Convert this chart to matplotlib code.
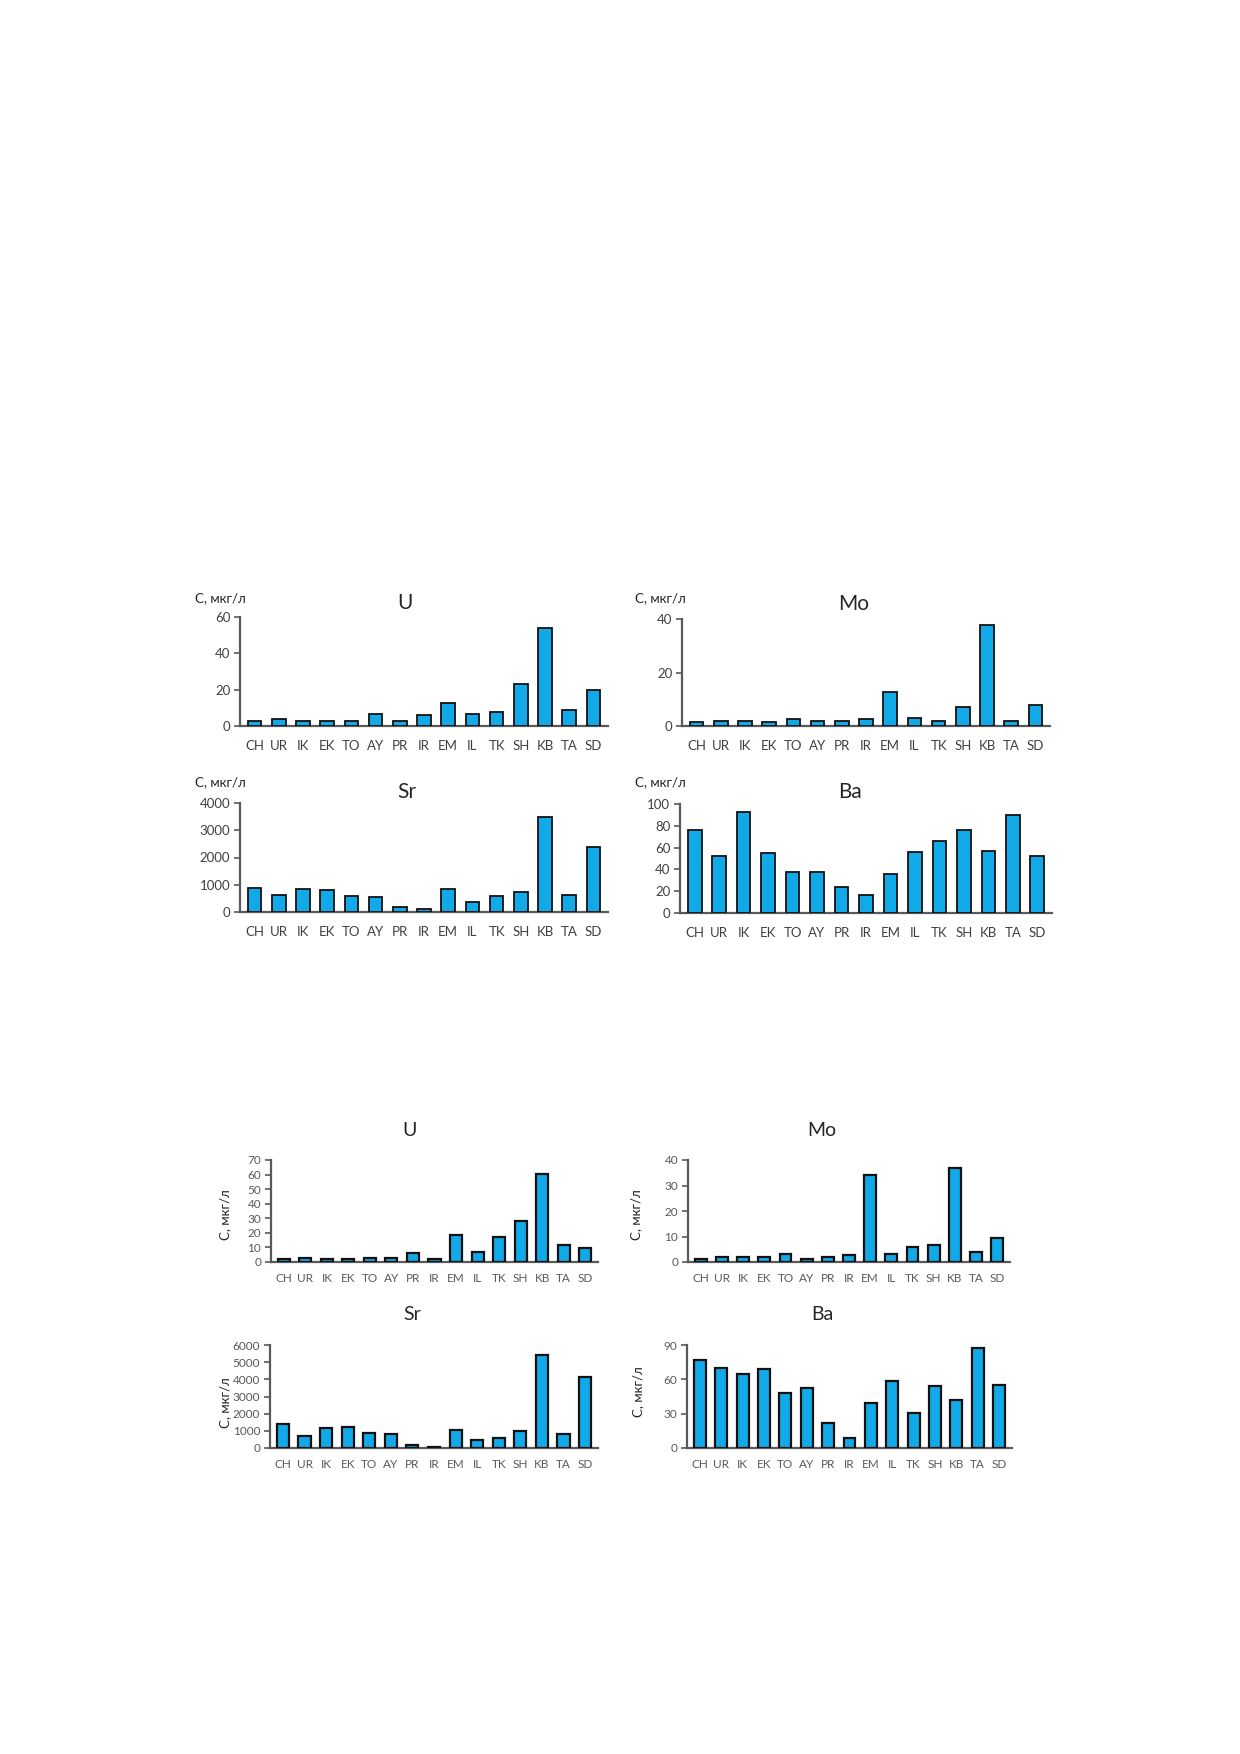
import numpy as np
import matplotlib
matplotlib.use("Agg")
import matplotlib.pyplot as plt

plt.rcParams['font.family'] = ['Lato', 'DejaVu Sans']

categories = ["CH", "UR", "IK", "EK", "TO", "AY", "PR", "IR", "EM", "IL", "TK", "SH", "KB", "TA", "SD"]

# upper block
u_top = [3.0, 3.9, 3.0, 2.6, 3.0, 6.8, 3.0, 6.3, 12.4, 6.8, 7.7, 22.9, 53.9, 9.0, 19.7]
mo_top = [1.4, 1.7, 1.7, 1.4, 2.6, 2.0, 1.7, 2.6, 12.7, 3.0, 2.0, 7.0, 37.6, 1.7, 7.7]
sr_top = [874, 628, 850, 812, 578, 541, 185, 123, 837, 382, 578, 750, 3470, 628, 2400]
ba_top = [75.9, 52.4, 92.7, 55.2, 37.5, 37.5, 24.0, 16.5, 35.4, 55.8, 66.2, 75.9, 56.7, 90.0, 52.4]

# lower block
u_bot = [1.8, 2.7, 1.8, 1.8, 2.7, 2.7, 5.9, 2.0, 18.2, 6.6, 17.3, 28.0, 60.6, 11.6, 9.3]
mo_bot = [1.3, 2.0, 2.0, 2.0, 3.1, 1.3, 2.0, 2.7, 34.3, 3.3, 5.7, 6.8, 36.7, 3.8, 9.3]
sr_bot = [1420, 720, 1190, 1250, 860, 820, 195, 78, 1070, 490, 565, 990, 5415, 840, 4150]
ba_bot = [77.0, 70.0, 65.0, 68.7, 48.2, 52.3, 21.9, 8.8, 39.5, 58.5, 30.4, 53.8, 41.8, 87.7, 55.3]

top_ticks = {"U": [0, 20, 40, 60], "Mo": [0, 20, 40], "Sr": [0, 1000, 2000, 3000, 4000],
             "Ba": [0, 20, 40, 60, 80, 100]}
bot_ticks = {"U": [0, 10, 20, 30, 40, 50, 60, 70], "Mo": [0, 10, 20, 30, 40],
             "Sr": [0, 1000, 2000, 3000, 4000, 5000, 6000], "Ba": [0, 30, 60, 90]}

W, H = 1240, 1754
fig = plt.figure(figsize=(W / 100, H / 100), dpi=100)

BAR = '#12A9E9'
SPINE = '#595959'
ylabel = "С, мкг/л"


def px_axes(left, right, top, bottom):
    return fig.add_axes([left / W, 1 - bottom / H, (right - left) / W, (bottom - top) / H])


def style(ax, vals, ticks, fs, pad_x, tcol, lw_edge):
    x = np.arange(len(categories))
    ax.bar(x, vals, width=0.56, color=BAR, edgecolor='#111111', linewidth=lw_edge, zorder=3)
    ax.set_xlim(-0.6, len(categories) - 0.4)
    ax.set_ylim(0, ticks[-1])
    ax.set_yticks(ticks)
    ax.set_xticks(x)
    ax.set_xticklabels(categories)
    for s in ['top', 'right']:
        ax.spines[s].set_visible(False)
    for s in ['left', 'bottom']:
        ax.spines[s].set_color(SPINE)
        ax.spines[s].set_linewidth(1.6)
    ax.tick_params(axis='x', length=0, pad=pad_x, labelsize=fs, labelcolor=tcol)
    ax.tick_params(axis='y', length=4, width=1.2, color=SPINE, pad=3, labelsize=fs, labelcolor=tcol)
    ax.set_facecolor('none')


# ---- upper block ----
axes_top = [
    ("U", u_top, (240, 608, 617, 726), (405, 603), (195, 598)),
    ("Mo", mo_top, (682, 1050, 619, 726), (854, 604), (635, 598)),
    ("Sr", sr_top, (240, 608, 803, 912), (407, 792), (195, 782)),
    ("Ba", ba_top, (680, 1052, 804, 913), (850, 792), (635, 782)),
]
for name, vals, box, tpos, lpos in axes_top:
    ax = px_axes(*box)
    style(ax, vals, top_ticks[name], 9.5, 10, '#404040', 1.3)
    fig.text(tpos[0] / W, 1 - tpos[1] / H, name, ha='center', va='center',
             fontsize=15, color='#262626')
    fig.text(lpos[0] / W, 1 - lpos[1] / H, ylabel, ha='left', va='center',
             fontsize=9.5, color='#262626')

# ---- lower block ----
axes_bot = [
    ("U", u_bot, (271, 598, 1160, 1262), (410, 1130), (225, 1215)),
    ("Mo", mo_bot, (688, 1010, 1160, 1262), (822, 1130), (636, 1215)),
    ("Sr", sr_bot, (270, 598, 1345, 1448), (412, 1315), (225, 1403)),
    ("Ba", ba_bot, (687, 1012, 1345, 1448), (822, 1315), (638, 1392)),
]
for name, vals, box, tpos, lpos in axes_bot:
    ax = px_axes(*box)
    style(ax, vals, bot_ticks[name], 8.5, 8, '#595959', 1.6)
    fig.text(tpos[0] / W, 1 - tpos[1] / H, name, ha='center', va='center',
             fontsize=14, color='#262626')
    fig.text(lpos[0] / W, 1 - lpos[1] / H, ylabel, ha='center', va='center',
             rotation=90, fontsize=9.5, color='#262626')

fig.savefig("out.png", dpi=100, facecolor='white')
